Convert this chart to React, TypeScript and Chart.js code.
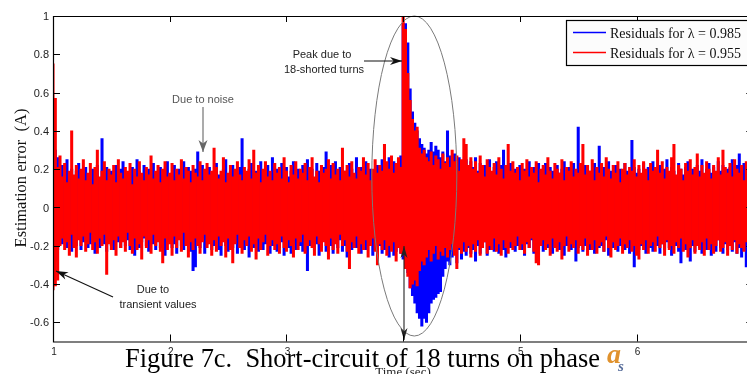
import React, { useEffect, useRef } from "react";
import { Chart, registerables } from "chart.js";

Chart.register(...registerables);

// ---- data (one high/low pair per 0.02 s) ----
const T_START = 1;
const T_STEP = 0.02;

const RED_HIGH = [
  0.75, 0.57, 0.21, 0.27, 0.16, 0.23, 0.13, 0.19, 0.40, 0.17,
  0.22, 0.15, 0.20, 0.25, 0.14, 0.18, 0.23, 0.12, 0.21, 0.30,
  0.16, 0.19, 0.24, 0.14, 0.20, 0.17, 0.22, 0.13, 0.25, 0.18,
  0.15, 0.21, 0.19, 0.23, 0.12, 0.20, 0.16, 0.24, 0.18, 0.14,
  0.21, 0.17, 0.27, 0.15, 0.19, 0.22, 0.13, 0.20, 0.24, 0.16,
  0.18, 0.23, 0.14, 0.20, 0.17, 0.25, 0.15, 0.21, 0.19, 0.13,
  0.22, 0.18, 0.16, 0.24, 0.14, 0.20, 0.23, 0.17, 0.19, 0.31,
  0.21, 0.15, 0.19, 0.26, 0.13, 0.18, 0.22, 0.16, 0.20, 0.24,
  0.17, 0.14, 0.21, 0.19, 0.25, 0.15, 0.30, 0.18, 0.22, 0.13,
  0.20, 0.24, 0.16, 0.19, 0.14, 0.23, 0.18, 0.21, 0.15, 0.26,
  0.19, 0.13, 0.22, 0.17, 0.24, 0.15, 0.20, 0.18, 0.23, 0.14,
  0.21, 0.26, 0.16, 0.19, 0.13, 0.22, 0.18, 0.20, 0.25, 0.15,
  0.23, 0.17, 0.20, 0.14, 0.31, 0.19, 0.22, 0.16, 0.24, 0.18,
  0.15, 0.21, 0.19, 0.26, 0.17, 0.23, 0.14, 0.20, 0.25, 0.18,
  0.22, 0.19, 0.33, 0.24, 0.20, 0.27, 0.18, 0.23, 0.26, 0.21,
  1.02, 0.93, 0.70, 0.56, 0.46, 0.40, 0.42, 0.31, 0.28, 0.30,
  0.26, 0.24, 0.29, 0.22, 0.27, 0.25, 0.20, 0.28, 0.23, 0.26,
  0.21, 0.30, 0.24, 0.27, 0.19, 0.25, 0.36, 0.33, 0.22, 0.26,
  0.20, 0.24, 0.18, 0.27, 0.22, 0.16, 0.25, 0.21, 0.19, 0.23,
  0.17, 0.26, 0.20, 0.15, 0.22, 0.33, 0.19, 0.24, 0.18, 0.21,
  0.14, 0.23, 0.19, 0.25, 0.16, 0.21, 0.18, 0.24, 0.13, 0.20,
  0.22, 0.17, 0.26, 0.19, 0.15, 0.23, 0.20, 0.18, 0.25, 0.14,
  0.21, 0.19, 0.24, 0.16, 0.20, 0.18, 0.23, 0.33, 0.17, 0.22,
  0.19, 0.25, 0.14, 0.21, 0.18, 0.23, 0.16, 0.26, 0.20, 0.15,
  0.22, 0.18, 0.24, 0.13, 0.20, 0.23, 0.17, 0.21, 0.19, 0.25,
  0.16, 0.22, 0.18, 0.24, 0.20, 0.14, 0.23, 0.19, 0.21, 0.30,
  0.18, 0.24, 0.15, 0.21, 0.19, 0.26, 0.33, 0.17, 0.22, 0.20,
  0.14, 0.23, 0.19, 0.25, 0.17, 0.21, 0.28, 0.16, 0.22, 0.18,
  0.24, 0.20, 0.15, 0.22, 0.19, 0.26, 0.17, 0.30, 0.21, 0.18,
  0.23, 0.16, 0.25, 0.20, 0.18, 0.22, 0.14, 0.24, 0.19, 0.21,
  0.20,
];

const RED_LOW = [
  -0.43, -0.41, -0.38, -0.20, -0.16, -0.22, -0.18, -0.25, -0.14, -0.21,
  -0.26, -0.17, -0.20, -0.15, -0.23, -0.19, -0.13, -0.22, -0.18, -0.24,
  -0.16, -0.20, -0.14, -0.35, -0.19, -0.22, -0.17, -0.25, -0.15, -0.21,
  -0.18, -0.23, -0.13, -0.20, -0.24, -0.16, -0.22, -0.19, -0.27, -0.15,
  -0.21, -0.17, -0.24, -0.14, -0.20, -0.18, -0.23, -0.29, -0.16, -0.22,
  -0.19, -0.25, -0.15, -0.21, -0.17, -0.23, -0.13, -0.20, -0.26, -0.18,
  -0.22, -0.16, -0.20, -0.24, -0.18, -0.14, -0.21, -0.19, -0.25, -0.17,
  -0.23, -0.15, -0.20, -0.18, -0.26, -0.16, -0.22, -0.29, -0.19, -0.14,
  -0.21, -0.24, -0.17, -0.20, -0.15, -0.23, -0.19, -0.27, -0.16, -0.22,
  -0.18, -0.14, -0.25, -0.20, -0.17, -0.22, -0.19, -0.24, -0.15, -0.21,
  -0.23, -0.17, -0.20, -0.26, -0.16, -0.22, -0.18, -0.14, -0.24, -0.20,
  -0.17, -0.21, -0.25, -0.15, -0.19, -0.23, -0.18, -0.20, -0.27, -0.16,
  -0.22, -0.19, -0.24, -0.14, -0.20, -0.17, -0.23, -0.32, -0.18, -0.21,
  -0.15, -0.24, -0.19, -0.22, -0.17, -0.26, -0.20, -0.16, -0.23, -0.30,
  -0.19, -0.22, -0.17, -0.25, -0.20, -0.23, -0.18, -0.28, -0.21, -0.24,
  -0.24, -0.32, -0.36, -0.42, -0.40, -0.38, -0.41, -0.33, -0.28, -0.30,
  -0.26, -0.22, -0.28, -0.24, -0.20, -0.27, -0.23, -0.25, -0.21, -0.26,
  -0.22, -0.19, -0.25, -0.32, -0.21, -0.24, -0.18, -0.23, -0.20, -0.26,
  -0.19, -0.23, -0.17, -0.25, -0.21, -0.18, -0.24, -0.20, -0.22, -0.16,
  -0.23, -0.19, -0.25, -0.17, -0.21, -0.24, -0.18, -0.22, -0.20, -0.15,
  -0.22, -0.19, -0.24, -0.18, -0.21, -0.16, -0.23, -0.29, -0.30, -0.20,
  -0.17, -0.22, -0.19, -0.25, -0.16, -0.21, -0.23, -0.18, -0.27, -0.20,
  -0.15, -0.23, -0.19, -0.21, -0.17, -0.24, -0.20, -0.22, -0.16, -0.25,
  -0.19, -0.22, -0.17, -0.24, -0.20, -0.18, -0.23, -0.15, -0.21, -0.26,
  -0.18, -0.22, -0.20, -0.16, -0.24, -0.19, -0.21, -0.17, -0.23, -0.20,
  -0.25, -0.27, -0.19, -0.22, -0.17, -0.24, -0.20, -0.18, -0.23, -0.15,
  -0.21, -0.19, -0.25, -0.17, -0.22, -0.20, -0.24, -0.18, -0.21, -0.16,
  -0.23, -0.19, -0.26, -0.21, -0.17, -0.24, -0.20, -0.22, -0.18, -0.25,
  -0.16, -0.22, -0.19, -0.24, -0.20, -0.17, -0.23, -0.21, -0.18, -0.25,
  -0.20, -0.22, -0.17, -0.24, -0.19, -0.21, -0.23, -0.18, -0.20, -0.22,
  -0.19,
];

const BLUE_HIGH = [
  0.48, 0.30, 0.26, 0.18, 0.22, 0.14, 0.25, 0.17, 0.20, 0.15,
  0.19, 0.23, 0.13, 0.18, 0.21, 0.16, 0.12, 0.20, 0.17, 0.22,
  0.14, 0.36, 0.18, 0.21, 0.15, 0.19, 0.13, 0.22, 0.17, 0.20,
  0.24, 0.15, 0.18, 0.13, 0.21, 0.17, 0.25, 0.19, 0.14, 0.22,
  0.16, 0.20, 0.13, 0.23, 0.18, 0.15, 0.21, 0.17, 0.19, 0.24,
  0.14, 0.18, 0.22, 0.16, 0.20, 0.13, 0.24, 0.17, 0.21, 0.19,
  0.15, 0.20, 0.29, 0.18, 0.22, 0.16, 0.13, 0.21, 0.17, 0.19,
  0.23, 0.17, 0.14, 0.20, 0.25, 0.16, 0.19, 0.22, 0.15, 0.18,
  0.21, 0.36, 0.18, 0.14, 0.20, 0.23, 0.17, 0.19, 0.15, 0.24,
  0.16, 0.19, 0.22, 0.14, 0.26, 0.18, 0.20, 0.15, 0.23, 0.17,
  0.21, 0.16, 0.19, 0.24, 0.15, 0.20, 0.17, 0.22, 0.13, 0.25,
  0.18, 0.20, 0.15, 0.23, 0.19, 0.16, 0.21, 0.29, 0.17, 0.22,
  0.14, 0.24, 0.18, 0.21, 0.16, 0.19, 0.15, 0.23, 0.20, 0.17,
  0.26, 0.16, 0.21, 0.18, 0.24, 0.15, 0.20, 0.17, 0.19, 0.22,
  0.18, 0.25, 0.21, 0.19, 0.26, 0.22, 0.24, 0.20, 0.23, 0.27,
  0.96, 0.96, 0.86, 0.62, 0.50, 0.44, 0.40, 0.36, 0.33, 0.31,
  0.28, 0.30, 0.34, 0.29, 0.32, 0.30, 0.26, 0.29, 0.24, 0.40,
  0.27, 0.24, 0.28, 0.22, 0.26, 0.20, 0.23, 0.25, 0.19, 0.24,
  0.21, 0.26, 0.19, 0.23, 0.17, 0.22, 0.20, 0.25, 0.18, 0.21,
  0.24, 0.19, 0.22, 0.30, 0.17, 0.21, 0.23, 0.18, 0.20, 0.16,
  0.22, 0.18, 0.20, 0.16, 0.24, 0.19, 0.21, 0.17, 0.23, 0.15,
  0.20, 0.23, 0.17, 0.21, 0.19, 0.16, 0.22, 0.18, 0.20, 0.24,
  0.17, 0.21, 0.19, 0.23, 0.16, 0.42, 0.20, 0.18, 0.22, 0.15,
  0.19, 0.17, 0.23, 0.20, 0.32, 0.16, 0.21, 0.18, 0.24, 0.19,
  0.15, 0.22, 0.18, 0.20, 0.16, 0.23, 0.19, 0.17, 0.35, 0.21,
  0.18, 0.20, 0.16, 0.23, 0.19, 0.21, 0.17, 0.24, 0.18, 0.20,
  0.22, 0.17, 0.20, 0.25, 0.18, 0.21, 0.19, 0.16, 0.23, 0.20,
  0.17, 0.21, 0.24, 0.18, 0.20, 0.16, 0.22, 0.19, 0.25, 0.17,
  0.20, 0.23, 0.18, 0.21, 0.16, 0.24, 0.19, 0.22, 0.17, 0.20,
  0.21, 0.25, 0.18, 0.22, 0.28, 0.19, 0.23, 0.17, 0.24, 0.26,
  0.22,
];

const BLUE_LOW = [
  -0.31, -0.28, -0.22, -0.19, -0.19, -0.15, -0.21, -0.17, -0.23, -0.14,
  -0.20, -0.16, -0.22, -0.18, -0.15, -0.21, -0.19, -0.14, -0.24, -0.17,
  -0.21, -0.15, -0.19, -0.23, -0.16, -0.20, -0.22, -0.14, -0.18, -0.21,
  -0.15, -0.20, -0.17, -0.22, -0.19, -0.25, -0.14, -0.21, -0.18, -0.16,
  -0.20, -0.23, -0.15, -0.19, -0.22, -0.17, -0.21, -0.14, -0.25, -0.18,
  -0.16, -0.21, -0.19, -0.24, -0.15, -0.20, -0.22, -0.17, -0.19, -0.23,
  -0.33, -0.31, -0.18, -0.21, -0.16, -0.24, -0.19, -0.15, -0.22, -0.20,
  -0.17, -0.22, -0.25, -0.16, -0.20, -0.23, -0.18, -0.21, -0.15, -0.24,
  -0.19, -0.16, -0.22, -0.20, -0.26, -0.17, -0.21, -0.18, -0.23, -0.15,
  -0.22, -0.19, -0.17, -0.24, -0.20, -0.16, -0.23, -0.21, -0.18, -0.25,
  -0.17, -0.21, -0.24, -0.19, -0.22, -0.16, -0.20, -0.23, -0.18, -0.33,
  -0.20, -0.17, -0.22, -0.19, -0.25, -0.21, -0.16, -0.23, -0.18, -0.20,
  -0.24, -0.18, -0.21, -0.17, -0.23, -0.20, -0.26, -0.19, -0.22, -0.16,
  -0.21, -0.19, -0.24, -0.18, -0.22, -0.20, -0.17, -0.25, -0.19, -0.23,
  -0.20, -0.24, -0.22, -0.19, -0.26, -0.21, -0.25, -0.23, -0.20, -0.24,
  -0.27, -0.30, -0.34, -0.42, -0.46, -0.50, -0.55, -0.58, -0.62, -0.58,
  -0.60, -0.55, -0.50, -0.48, -0.47, -0.45, -0.44, -0.36, -0.32, -0.28,
  -0.30, -0.26, -0.24, -0.29, -0.22, -0.27, -0.23, -0.25, -0.21, -0.24,
  -0.22, -0.28, -0.20, -0.24, -0.21, -0.18, -0.25, -0.22, -0.19, -0.23,
  -0.20, -0.24, -0.18, -0.22, -0.26, -0.19, -0.21, -0.17, -0.23, -0.20,
  -0.18, -0.22, -0.25, -0.19, -0.21, -0.17, -0.24, -0.20, -0.22, -0.18,
  -0.23, -0.19, -0.21, -0.17, -0.24, -0.20, -0.18, -0.22, -0.19, -0.25,
  -0.20, -0.17, -0.22, -0.19, -0.28, -0.21, -0.18, -0.23, -0.20, -0.16,
  -0.22, -0.19, -0.24, -0.18, -0.21, -0.20, -0.23, -0.17, -0.25, -0.19,
  -0.21, -0.18, -0.23, -0.20, -0.16, -0.22, -0.19, -0.24, -0.21, -0.31,
  -0.18, -0.22, -0.20, -0.17, -0.24, -0.19, -0.21, -0.23, -0.18, -0.20,
  -0.24, -0.19, -0.22, -0.18, -0.21, -0.25, -0.17, -0.20, -0.23, -0.29,
  -0.19, -0.22, -0.17, -0.28, -0.20, -0.23, -0.18, -0.21, -0.24, -0.19,
  -0.22, -0.18, -0.25, -0.20, -0.23, -0.17, -0.21, -0.24, -0.19, -0.22,
  -0.20, -0.23, -0.18, -0.24, -0.21, -0.26, -0.19, -0.31, -0.22, -0.25,
  -0.32,
];

const X_MIN = 1;
const X_MAX = 7;
const Y_MIN = -0.7;
const Y_MAX = 1;
const X_TICKS = [1, 2, 3, 4, 5, 6];
const X_TICK_LABELS = ["1", "2", "3", "", "5", "6"];
const Y_TICKS = [1, 0.8, 0.6, 0.4, 0.2, 0, -0.2, -0.4, -0.6];
const Y_TICK_LABELS = ["1", "0.8", "0.6", "0.4", "0.2", "0", "-0.2", "-0.4", "-0.6"];
const SERIES_LABELS = ["Residuals for λ = 0.985", "Residuals for λ = 0.955"];
const Y_TITLE = "Estimation error  (A)";
const X_TITLE = "Time (sec)";
const CAPTION = "Figure 7c.  Short-circuit of 18 turns on phase";

function ranges(high: number[], low: number[]) {
  return high.map((h, i) => ({ x: T_START + i * T_STEP, y: [low[i], h] }));
}

function arrowHead(ctx: CanvasRenderingContext2D, x1: number, y1: number, x2: number, y2: number, len: number, half: number) {
  const ang = Math.atan2(y2 - y1, x2 - x1);
  const c = Math.cos(ang), s = Math.sin(ang);
  const bx = x2 - c * len, by = y2 - s * len;
  const nx = x2 - c * len * 0.7, ny = y2 - s * len * 0.7;
  ctx.beginPath();
  ctx.moveTo(x2, y2);
  ctx.lineTo(bx - s * half, by + c * half);
  ctx.lineTo(nx, ny);
  ctx.lineTo(bx + s * half, by - c * half);
  ctx.closePath();
  ctx.fill();
}

function arrow(ctx: CanvasRenderingContext2D, x1: number, y1: number, x2: number, y2: number, color: string, len = 11, half = 4, both = false) {
  ctx.save();
  ctx.strokeStyle = color;
  ctx.fillStyle = color;
  ctx.lineWidth = 1.1;
  ctx.beginPath();
  ctx.moveTo(x1, y1);
  ctx.lineTo(x2, y2);
  ctx.stroke();
  arrowHead(ctx, x1, y1, x2, y2, len, half);
  if (both) arrowHead(ctx, x2, y2, x1, y1, len, half);
  ctx.restore();
}

const decor = {
  id: "decor",
  afterDraw(chart: any) {
    const { ctx, chartArea: a, scales } = chart;
    const xs = scales.x, ys = scales.y;
    ctx.save();

    // annotations over the data
    ctx.strokeStyle = "#7a7a7a";
    ctx.lineWidth = 1;
    ctx.beginPath();
    ctx.ellipse(414.3, 176, 42.5, 160, 0, 0, Math.PI * 2);
    ctx.stroke();

    arrow(ctx, 404, 246, 404, 340, "#222", 12, 3.5, true);

    // frame
    ctx.strokeStyle = "#000";
    ctx.lineWidth = 1.2;
    ctx.beginPath();
    ctx.rect(Math.round(a.left) + 0.5, Math.round(a.top) + 0.5, a.right - a.left, a.bottom - a.top);
    ctx.stroke();

    // ticks (inward)
    ctx.lineWidth = 1;
    ctx.beginPath();
    X_TICKS.forEach((v) => {
      const px = Math.round(xs.getPixelForValue(v)) + 0.5;
      ctx.moveTo(px, a.bottom);
      ctx.lineTo(px, a.bottom - 7);
      ctx.moveTo(px, a.top);
      ctx.lineTo(px, a.top + 6);
    });
    Y_TICKS.forEach((v) => {
      const py = Math.round(ys.getPixelForValue(v)) + 0.5;
      ctx.moveTo(a.left, py);
      ctx.lineTo(a.left + 7, py);
      ctx.moveTo(a.right, py);
      ctx.lineTo(a.right - 7, py);
    });
    ctx.stroke();

    // tick labels
    ctx.fillStyle = "#222";
    ctx.font = '11px "Liberation Sans", Arial, sans-serif';
    ctx.textAlign = "right";
    ctx.textBaseline = "middle";
    Y_TICKS.forEach((v, i) => {
      ctx.fillText(Y_TICK_LABELS[i], a.left - 4, ys.getPixelForValue(v) + 1);
    });
    ctx.font = '10px "Liberation Sans", Arial, sans-serif';
    ctx.textAlign = "center";
    X_TICKS.forEach((v, i) => {
      if (X_TICK_LABELS[i]) ctx.fillText(X_TICK_LABELS[i], xs.getPixelForValue(v) + 1, 352);
    });

    // y title
    ctx.save();
    ctx.translate(25.5, 178);
    ctx.rotate(-Math.PI / 2);
    ctx.font = '16.5px "Liberation Serif", "Times New Roman", serif';
    ctx.textAlign = "center";
    ctx.textBaseline = "alphabetic";
    ctx.fillStyle = "#111";
    ctx.fillText(Y_TITLE, 0, 0);
    ctx.restore();

    // legend
    ctx.fillStyle = "#fcfcfc";
    ctx.fillRect(566.5, 20.5, 190, 45);
    ctx.strokeStyle = "#000";
    ctx.lineWidth = 1.2;
    ctx.strokeRect(566.5, 20.5, 190, 45);
    const legendColors = ["#0000ff", "#ff0000"];
    const legendY = [32.5, 52.5];
    ctx.font = '14px "Liberation Serif", "Times New Roman", serif';
    ctx.textAlign = "left";
    ctx.textBaseline = "alphabetic";
    SERIES_LABELS.forEach((lab, i) => {
      ctx.strokeStyle = legendColors[i];
      ctx.lineWidth = 1.5;
      ctx.beginPath();
      ctx.moveTo(573, legendY[i]);
      ctx.lineTo(606, legendY[i]);
      ctx.stroke();
      ctx.fillStyle = "#111";
      ctx.fillText(lab, 610, legendY[i] + 5.5);
    });

    // text annotations
    ctx.font = '11px "Liberation Sans", Arial, sans-serif';
    ctx.fillStyle = "#555";
    ctx.textAlign = "center";
    ctx.fillText("Due to noise", 203, 103);
    arrow(ctx, 203, 107, 203, 152, "#666", 12, 4.5);

    ctx.fillStyle = "#222";
    ctx.fillText("Peak due to", 322, 58);
    ctx.fillText("18-shorted turns", 324, 73);
    arrow(ctx, 364, 61, 402, 61, "#111", 12, 4);

    ctx.fillText("Due to", 153, 293);
    ctx.fillText("transient values", 158, 308);
    arrow(ctx, 113, 297, 56, 271, "#111", 12, 4);

    // caption
    ctx.fillStyle = "#000";
    ctx.font = '27px "Liberation Serif", "Times New Roman", serif';
    ctx.textAlign = "left";
    const w = ctx.measureText(CAPTION).width;
    ctx.save();
    ctx.translate(125, 366.5);
    ctx.scale(475 / w, 1);
    ctx.fillText(CAPTION, 0, 0);
    ctx.restore();
    ctx.font = 'italic bold 28px "Liberation Serif", "Times New Roman", serif';
    ctx.fillStyle = "#e0922e";
    ctx.fillText("a", 607, 363);
    ctx.font = 'italic bold 15px "Liberation Serif", "Times New Roman", serif';
    ctx.fillStyle = "#5a6f9c";
    ctx.fillText("s", 618, 371);

    // x title (mostly cropped)
    ctx.fillStyle = "#222";
    ctx.font = '13px "Liberation Serif", "Times New Roman", serif';
    ctx.textAlign = "center";
    ctx.fillText(X_TITLE, 403, 376);

    ctx.restore();
  },
};

export default function App() {
  const ref = useRef<HTMLCanvasElement | null>(null);
  useEffect(() => {
    if (!ref.current) return;
    const common = {
      borderWidth: 0,
      borderSkipped: false,
      barPercentage: 1,
      categoryPercentage: 1,
      grouped: false,
      inflateAmount: 0.35,
    };
    const chart = new Chart(ref.current, {
      type: "bar",
      data: {
        datasets: [
          {
            label: SERIES_LABELS[1],
            data: ranges(RED_HIGH, RED_LOW),
            backgroundColor: "#ff0000",
            ...common,
          },
          {
            label: SERIES_LABELS[0],
            data: ranges(BLUE_HIGH, BLUE_LOW),
            backgroundColor: "#0000ff",
            ...common,
          },
        ],
      },
      options: {
        animation: false,
        responsive: false,
        maintainAspectRatio: false,
        layout: { padding: { left: 53, top: 16, right: 6.7, bottom: 32.5 } },
        scales: {
          x: { type: "linear", min: X_MIN, max: X_MAX, offset: false, display: false },
          y: { type: "linear", min: Y_MIN, max: Y_MAX, display: false },
        },
        plugins: { legend: { display: false }, tooltip: { enabled: false } },
        events: [],
      },
      plugins: [decor],
    } as any);
    return () => chart.destroy();
  }, []);
  return (
    <div
      style={{
        position: "fixed",
        left: 0,
        top: 0,
        width: 747,
        height: 374,
        overflow: "hidden",
        background: "#fff",
      }}
    >
      <canvas ref={ref} width={760} height={374} style={{ display: "block" }} />
    </div>
  );
}
